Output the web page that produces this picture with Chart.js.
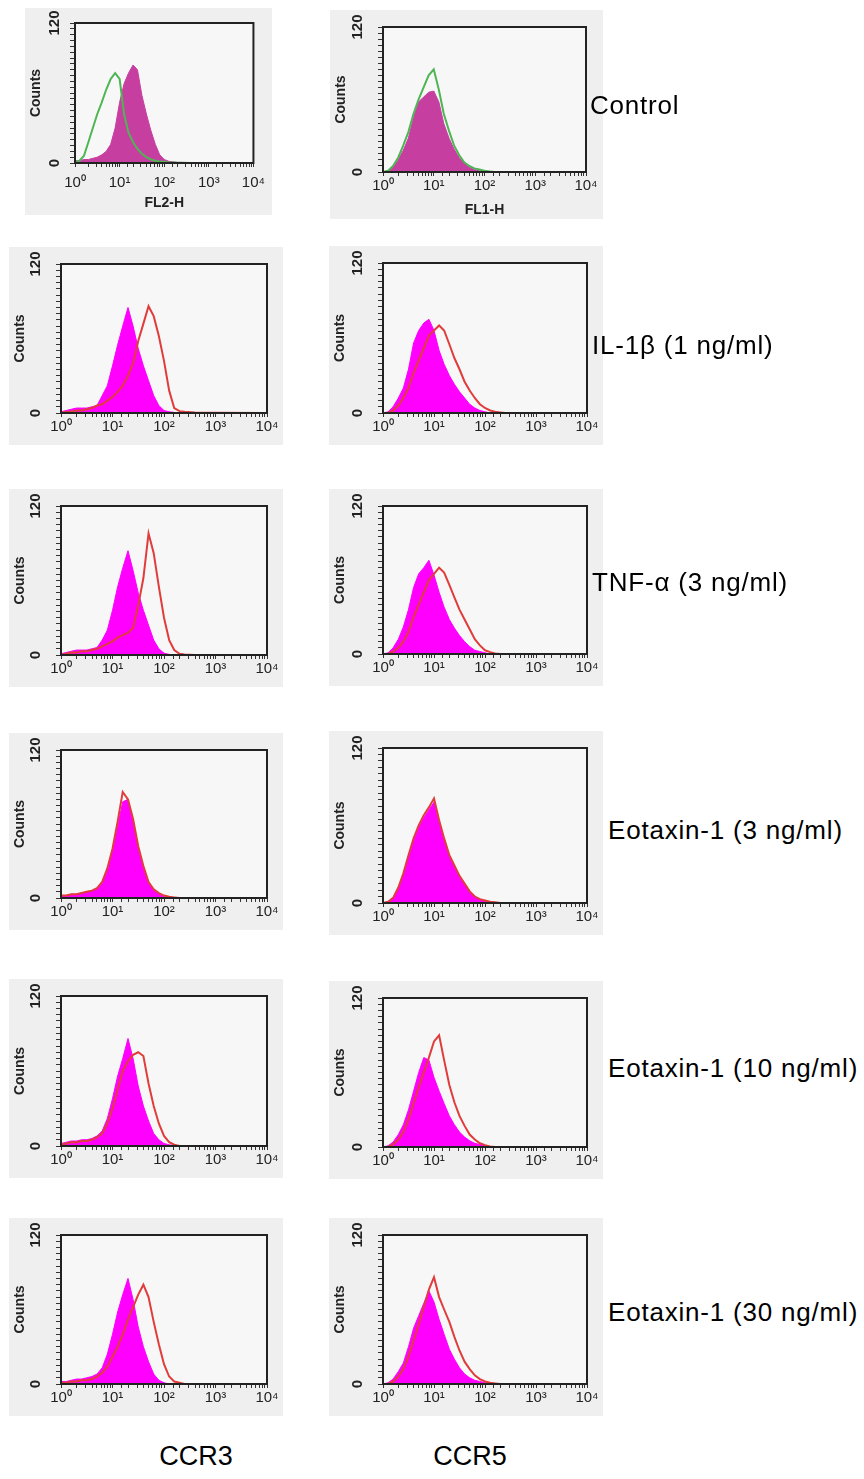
<!DOCTYPE html>
<html>
<head>
<meta charset="utf-8">
<script src="https://cdn.jsdelivr.net/npm/chart.js@4.4.1/dist/chart.umd.min.js"></script>
<style>
  body { margin: 0; background: #fff; width: 864px; height: 1479px; position: relative; overflow: hidden;
         font-family: "Liberation Sans", Arial, sans-serif; }
  .panel { position: absolute; background: #efefef; }
  .panel canvas { display: block; }
  .rowLabel { position: absolute; font-size: 26px; letter-spacing: 0.8px; color: #000; white-space: nowrap; transform: translateY(-50%); }
  .colLabel { position: absolute; font-size: 27px; color: #000; white-space: nowrap; transform: translate(-50%, -50%); }
</style>
</head>
<body>
<script>
// fluorescence channels (log axis positions of the histogram points)
const channels = [1, 1.26, 1.58, 2, 2.51, 3.16, 3.98, 5.01, 6.31, 7.94, 10, 12.6, 15.8, 20, 25.1, 31.6, 39.8, 50.1, 63.1, 79.4, 100, 126, 158, 200, 251, 398, 1000, 10000];
const decades = [1, 10, 100, 1000, 10000];
const decadeLabels = ['10⁰', '10¹', '10²', '10³', '10⁴'];
const countTicks = [0, 120];
const rowLabels = ['Control', 'IL-1β (1 ng/ml)', 'TNF-α (3 ng/ml)', 'Eotaxin-1 (3 ng/ml)', 'Eotaxin-1 (10 ng/ml)', 'Eotaxin-1 (30 ng/ml)'];
const columnLabels = ['CCR3', 'CCR5'];
const axisTitles = ['FL2-H', 'FL1-H'];

// counts
const ctrlCcr3Shaded = [2, 2, 3, 3, 4, 5, 7, 10, 16, 30, 52, 68, 77, 84, 80, 58, 42, 28, 16, 7, 3, 1.5, 1, 0.5, 0.5, 0.3, 0.2, 0];
const ctrlCcr3Line   = [0, 2, 6, 18, 30, 42, 52, 63, 72, 77, 72, 42, 26, 18, 12, 8, 5, 3, 2, 1, 1, 0.5, 0.5, 0.3, 0.3, 0, 0, 0];
const ctrlCcr5Shaded = [0, 1, 4, 10, 18, 28, 45, 58, 62, 66, 67, 58, 40, 28, 19, 12, 7, 4, 2, 1, 0.5, 0, 0, 0, 0, 0, 0, 0];
const ctrlCcr5Line   = [0, 1, 5, 12, 22, 33, 48, 60, 70, 80, 85, 68, 48, 34, 22, 14, 8, 5, 3, 2, 1, 0.5, 0, 0, 0, 0, 0, 0];

const il1Ccr3Shaded = [1, 2, 3, 4, 4, 4, 5, 6, 14, 22, 38, 55, 70, 85, 70, 52, 38, 26, 14, 6, 2, 1, 0.5, 0, 0, 0, 0, 0];
const il1Ccr3Line   = [0, 1, 1, 2, 2, 3, 4, 6, 7, 10, 13, 17, 22, 30, 40, 58, 72, 86, 78, 62, 42, 18, 4, 1.5, 1, 0.5, 0.3, 0];
const il1Ccr5Shaded = [0, 1, 5, 12, 20, 35, 56, 66, 72, 75, 66, 50, 39, 30, 23, 17, 12, 7, 4, 2, 1, 0, 0, 0, 0, 0, 0, 0];
const il1Ccr5Line   = [0, 0, 2, 6, 12, 20, 32, 42, 52, 62, 66, 70, 66, 55, 44, 35, 25, 18, 12, 7, 4, 2, 1, 0.5, 0, 0, 0, 0];

const tnfCcr3Shaded = [1, 2, 3, 4, 4, 4, 5, 6, 12, 20, 36, 55, 70, 84, 68, 50, 36, 24, 12, 5, 1.5, 0.5, 0, 0, 0, 0, 0, 0];
const tnfCcr3Line   = [0, 1, 2, 2, 3, 3, 4, 5, 7, 9, 11, 14, 16, 18, 22, 40, 62, 98, 82, 55, 30, 12, 4, 1, 0.5, 0, 0, 0];
const tnfCcr5Shaded = [0, 1, 5, 12, 22, 36, 54, 65, 70, 76, 64, 50, 38, 28, 21, 15, 10, 6, 3, 2, 1, 0, 0, 0, 0, 0, 0, 0];
const tnfCcr5Line   = [0, 0, 2, 5, 10, 18, 30, 40, 50, 60, 65, 70, 66, 56, 46, 36, 28, 20, 12, 7, 3, 1.5, 0.5, 0, 0, 0, 0, 0];

const eot3Ccr3Shaded = [2, 2, 3, 3, 4, 5, 6, 8, 12, 22, 38, 58, 78, 80, 62, 40, 24, 12, 6, 3, 1, 0.5, 0, 0, 0, 0, 0, 0];
const eot3Ccr3Line   = [2, 2, 3, 3, 4, 5, 6, 8, 13, 24, 40, 62, 86, 80, 64, 42, 26, 13, 7, 4, 2, 1, 0.5, 0, 0, 0, 0, 0];
const eot3Ccr5Shaded = [0, 1, 4, 12, 22, 36, 48, 58, 66, 72, 78, 62, 48, 36, 28, 20, 14, 8, 5, 3, 1.5, 0.5, 0, 0, 0, 0, 0, 0];
const eot3Ccr5Line   = [0, 1, 4, 12, 23, 37, 50, 60, 68, 74, 81, 64, 50, 37, 29, 21, 15, 9, 5, 3, 2, 1, 0.5, 0, 0, 0, 0, 0];

const eot10Ccr3Shaded = [2, 3, 4, 4, 5, 5, 6, 8, 12, 22, 38, 56, 70, 86, 70, 48, 32, 20, 10, 5, 2, 1, 0, 0, 0, 0, 0, 0];
const eot10Ccr3Line   = [1, 2, 3, 3, 4, 4, 5, 7, 10, 18, 30, 45, 60, 68, 73, 75, 72, 50, 32, 18, 8, 3, 1, 0, 0, 0, 0, 0];
const eot10Ccr5Shaded = [0, 1, 4, 10, 18, 30, 45, 60, 72, 70, 56, 45, 35, 25, 18, 12, 8, 5, 3, 2, 1, 0, 0, 0, 0, 0, 0, 0];
const eot10Ccr5Line   = [0, 0, 2, 6, 12, 22, 35, 48, 60, 72, 85, 90, 70, 50, 36, 25, 17, 10, 6, 3, 1.5, 0.5, 0, 0, 0, 0, 0, 0];

const eot30Ccr3Shaded = [2, 2, 3, 4, 4, 5, 6, 8, 13, 24, 40, 58, 72, 85, 68, 46, 30, 18, 8, 3, 1, 0, 0, 0, 0, 0, 0, 0];
const eot30Ccr3Line   = [1, 1, 2, 2, 3, 3, 4, 6, 9, 14, 22, 30, 40, 52, 62, 72, 80, 70, 50, 32, 16, 6, 2, 1, 0, 0, 0, 0];
const eot30Ccr5Shaded = [0, 1, 4, 10, 17, 30, 45, 55, 65, 75, 66, 52, 40, 28, 20, 13, 8, 5, 3, 2, 1, 0, 0, 0, 0, 0, 0, 0];
const eot30Ccr5Line   = [0, 0, 2, 6, 12, 22, 35, 48, 62, 76, 86, 70, 60, 50, 38, 27, 18, 12, 7, 4, 2, 1, 0.5, 0, 0, 0, 0, 0];

const shadedSeries = [
    [ctrlCcr3Shaded, ctrlCcr5Shaded],
    [il1Ccr3Shaded, il1Ccr5Shaded],
    [tnfCcr3Shaded, tnfCcr5Shaded],
    [eot3Ccr3Shaded, eot3Ccr5Shaded],
    [eot10Ccr3Shaded, eot10Ccr5Shaded],
    [eot30Ccr3Shaded, eot30Ccr5Shaded]
];
const lineSeries = [
    [ctrlCcr3Line, ctrlCcr5Line],
    [il1Ccr3Line, il1Ccr5Line],
    [tnfCcr3Line, tnfCcr5Line],
    [eot3Ccr3Line, eot3Ccr5Line],
    [eot10Ccr3Line, eot10Ccr5Line],
    [eot30Ccr3Line, eot30Ccr5Line]
];

// page layout: [left, top, right, bottom] of the grey panel and of the plot box
const panelBoxes = [
    [{ bg: [25, 8, 272, 215], plot: [75, 23, 263, 163] }, { bg: [330, 10, 603, 219], plot: [383, 23, 586, 172] }],
    [{ bg: [9, 247, 283, 445], plot: [61, 263, 267, 413] }, { bg: [329, 246, 603, 445], plot: [383, 262, 587, 413] }],
    [{ bg: [9, 489, 283, 687], plot: [61, 505, 267, 655] }, { bg: [329, 489, 603, 686], plot: [383, 505, 587, 654] }],
    [{ bg: [9, 733, 283, 930], plot: [61, 749, 267, 898] }, { bg: [329, 731, 603, 935], plot: [383, 747, 587, 903] }],
    [{ bg: [9, 979, 283, 1178], plot: [61, 995, 267, 1146] }, { bg: [329, 981, 603, 1179], plot: [383, 997, 587, 1147] }],
    [{ bg: [9, 1218, 283, 1416], plot: [61, 1234, 267, 1384] }, { bg: [329, 1218, 603, 1416], plot: [383, 1234, 587, 1384] }]
];
const rowLabelPos = [[590, 105], [592, 345], [592, 582], [608, 830], [608, 1068], [608, 1312]];
const colLabelPos = [[196, 1456], [470, 1456]];

// Plot box frame and inner background
const framePlugin = {
    id: 'frame',
    beforeDraw(chart) {
        const a = chart.chartArea;
        const ctx = chart.ctx;
        ctx.save();
        ctx.fillStyle = '#f7f7f7';
        ctx.fillRect(a.left, a.top, a.right - a.left, a.bottom - a.top);
        ctx.restore();
    },
    afterDraw(chart) {
        const a = chart.chartArea;
        const ctx = chart.ctx;
        ctx.save();
        ctx.strokeStyle = '#222';
        ctx.lineWidth = 2;
        ctx.strokeRect(a.left, a.top, a.right - a.left, a.bottom - a.top);
        ctx.restore();
    }
};

function makePanel(row, col) {
    const box = panelBoxes[row][col];
    const [bl, bt, br, bb] = box.bg;
    const [pl, pt, pr, pb] = box.plot;
    const w = br - bl, h = bb - bt;
    const isControl = row === 0;

    const wrap = document.createElement('div');
    wrap.className = 'panel';
    wrap.style.left = bl + 'px';
    wrap.style.top = bt + 'px';
    wrap.style.width = w + 'px';
    wrap.style.height = h + 'px';
    const canvas = document.createElement('canvas');
    canvas.width = w;
    canvas.height = h;
    canvas.style.width = w + 'px';
    canvas.style.height = h + 'px';
    wrap.appendChild(canvas);
    document.body.appendChild(wrap);

    const shaded = shadedSeries[row][col];
    const outline = lineSeries[row][col];
    const fillColor = isControl ? '#c63fa0' : '#ff00ff';
    const lineColor = isControl ? '#4fb554' : '#e03c3c';
    let xPad = 1;
    if (isControl) xPad = col === 0 ? 7 : 1;

    new Chart(canvas, {
        type: 'line',
        data: {
            datasets: [
                {
                    data: channels.map((c, i) => ({ x: c, y: outline[i] })),
                    borderColor: lineColor,
                    borderWidth: 2,
                    pointRadius: 0,
                    fill: false,
                    tension: 0
                },
                {
                    data: channels.map((c, i) => ({ x: c, y: shaded[i] })),
                    borderColor: fillColor,
                    backgroundColor: fillColor,
                    borderWidth: 1,
                    pointRadius: 0,
                    fill: 'origin',
                    tension: 0
                }
            ]
        },
        options: {
            responsive: false,
            animation: false,
            devicePixelRatio: 1,
            layout: { padding: { left: 0, top: pt - bt, right: br - pr, bottom: 0 } },
            plugins: { legend: { display: false }, tooltip: { enabled: false } },
            scales: {
                x: {
                    type: 'logarithmic',
                    min: 1,
                    max: 10000,
                    afterFit: (s) => { s.height = bb - pb; },
                    border: { display: true, color: '#222', width: 2 },
                    grid: { drawOnChartArea: false, drawTicks: true, tickLength: 4, color: '#333' },
                    ticks: {
                        autoSkip: false,
                        minRotation: 0,
                        maxRotation: 0,
                        padding: xPad,
                        color: '#222',
                        font: { family: 'Liberation Sans', size: 15 },
                        callback: (v) => {
                            const k = decades.indexOf(Number(v));
                            return k >= 0 ? decadeLabels[k] : '';
                        }
                    },
                    title: {
                        display: isControl,
                        text: axisTitles[col],
                        color: '#222',
                        padding: { top: 0, bottom: col === 0 ? 3 : 0 },
                        font: { family: 'Liberation Sans', size: 14, weight: 'bold' }
                    }
                },
                y: {
                    min: 0,
                    max: 120,
                    afterFit: (s) => { s.width = pl - bl; },
                    border: { display: true, color: '#222', width: 2 },
                    grid: { drawOnChartArea: false, drawTicks: true, tickLength: 5, color: '#333' },
                    ticks: {
                        stepSize: 5,
                        autoSkip: false,
                        minRotation: 90,
                        maxRotation: 90,
                        crossAlign: 'center',
                        padding: (row === 0 && col === 0) ? 3 : 8,
                        color: '#222',
                        font: { family: 'Liberation Sans', size: 15, weight: 'bold' },
                        callback: (v) => countTicks.includes(v) ? String(v) : ''
                    },
                    title: {
                        display: true,
                        text: 'Counts',
                        color: '#222',
                        padding: { top: 3, bottom: 0 },
                        font: { family: 'Liberation Sans', size: 14, weight: 'bold' }
                    }
                }
            }
        },
        plugins: [framePlugin]
    });
}

for (let r = 0; r < rowLabels.length; r++) {
    makePanel(r, 0);
    makePanel(r, 1);
    const lab = document.createElement('div');
    lab.className = 'rowLabel';
    lab.textContent = rowLabels[r];
    lab.style.left = rowLabelPos[r][0] + 'px';
    lab.style.top = rowLabelPos[r][1] + 'px';
    document.body.appendChild(lab);
}
columnLabels.forEach((t, i) => {
    const lab = document.createElement('div');
    lab.className = 'colLabel';
    lab.textContent = t;
    lab.style.left = colLabelPos[i][0] + 'px';
    lab.style.top = colLabelPos[i][1] + 'px';
    document.body.appendChild(lab);
});
</script>
</body>
</html>
